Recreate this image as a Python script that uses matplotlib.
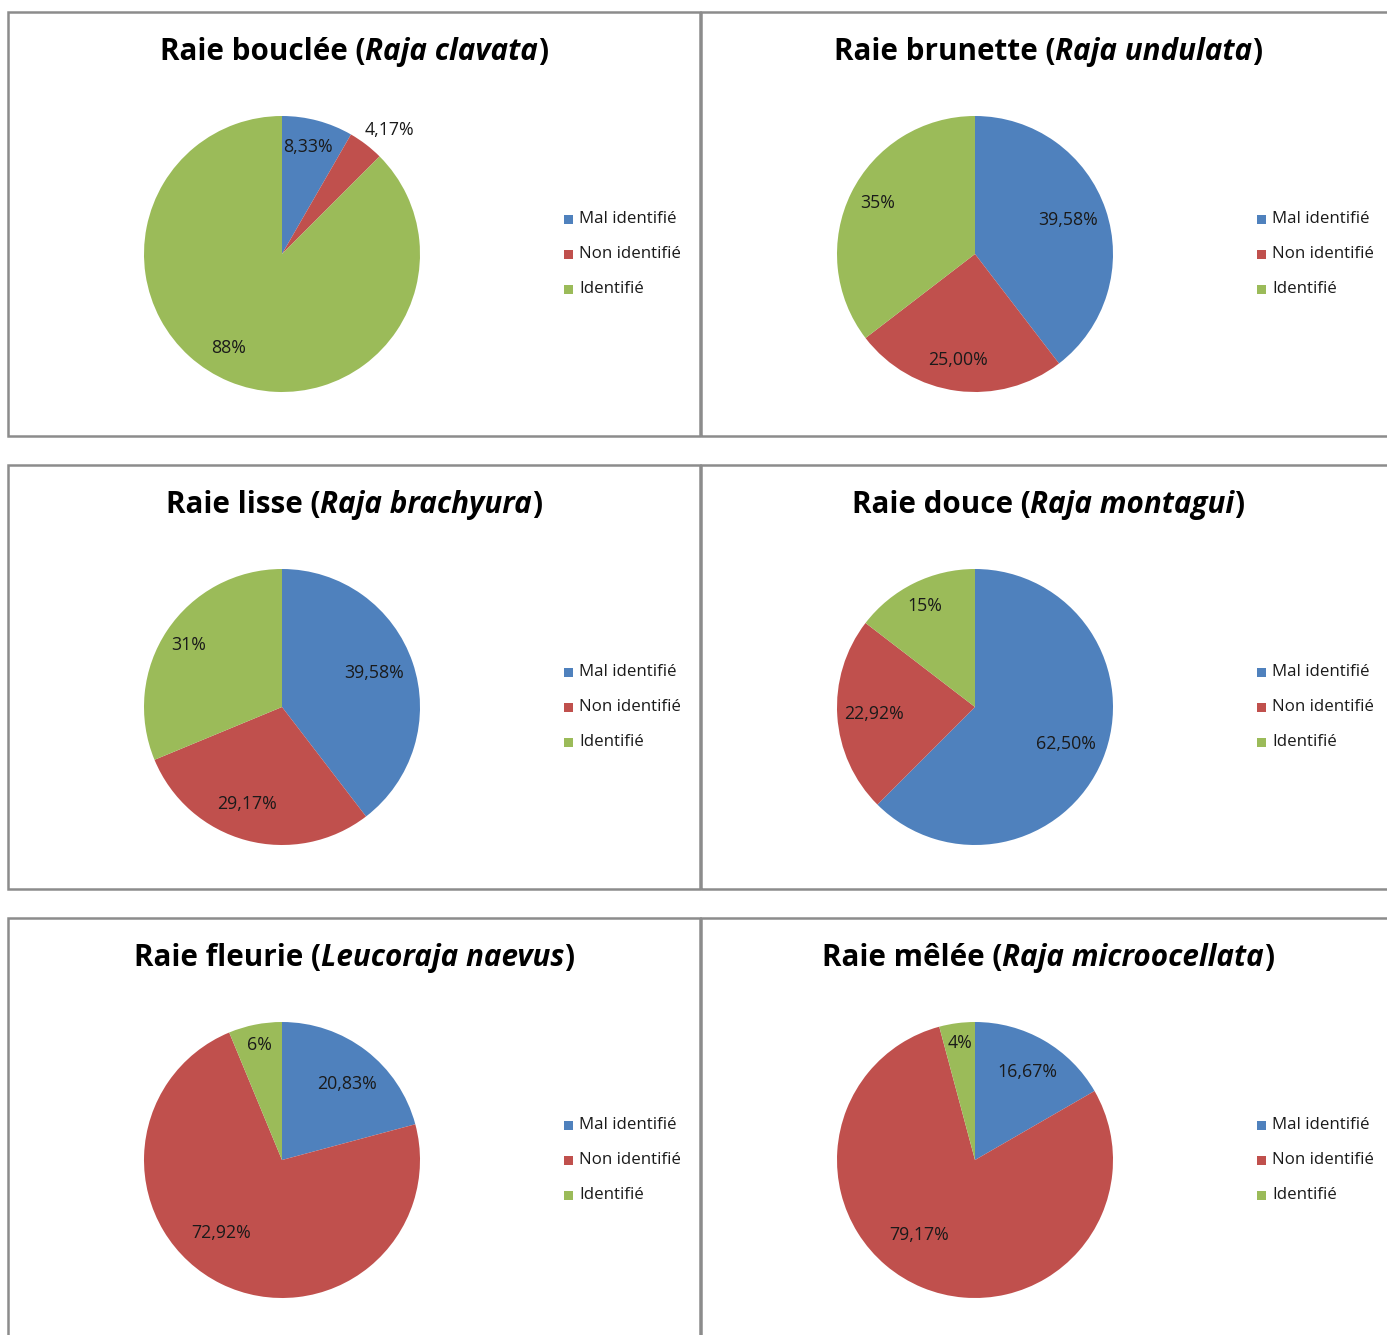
import matplotlib
matplotlib.use('Agg')

import matplotlib.pyplot as plt
from matplotlib.patches import Rectangle
import numpy as np

W, H = 1387, 1335

categories = ["Mal identifié", "Non identifié", "Identifié"]
colors = ["#4F81BD", "#C0504D", "#9BBB59"]

titles = [
    ("Raie bouclée (", "Raja clavata", ")"),
    ("Raie brunette (", "Raja undulata", ")"),
    ("Raie lisse (", "Raja brachyura", ")"),
    ("Raie douce (", "Raja montagui", ")"),
    ("Raie fleurie (", "Leucoraja naevus", ")"),
    ("Raie mêlée (", "Raja microocellata", ")"),
]

# percentages per species: Mal identifié, Non identifié, Identifié
vals_clavata = [8.33, 4.17, 87.50]
vals_undulata = [39.58, 25.00, 35.42]
vals_brachyura = [39.58, 29.17, 31.25]
vals_montagui = [62.50, 22.92, 14.58]
vals_naevus = [20.83, 72.92, 6.25]
vals_microocellata = [16.67, 79.17, 4.17]

labels_clavata = ["8,33%", "4,17%", "88%"]
labels_undulata = ["39,58%", "25,00%", "35%"]
labels_brachyura = ["39,58%", "29,17%", "31%"]
labels_montagui = ["62,50%", "22,92%", "15%"]
labels_naevus = ["20,83%", "72,92%", "6%"]
labels_microocellata = ["16,67%", "79,17%", "4%"]

all_vals = [vals_clavata, vals_undulata, vals_brachyura,
            vals_montagui, vals_naevus, vals_microocellata]
all_labels = [labels_clavata, labels_undulata, labels_brachyura,
              labels_montagui, labels_naevus, labels_microocellata]

# label placement: (distance as fraction of radius, angle shift in degrees)
label_pos = [
    [(0.80, 1.5), (1.19, -3.5), (0.78, -7)],
    [(0.72, 1.3), (0.78, -1.6), (0.80, -1.5)],
    [(0.71, 1.5), (0.75, -4.7), (0.81, 0)],
    [(0.71, 0), (0.73, 0), (0.82, 0)],
    [(0.725, -3), (0.69, -13.6), (0.85, 0)],
    [(0.74, -0.6), (0.68, -14.3), (0.855, 0)],
]

plt.rcParams['font.family'] = ['Open Sans', 'DejaVu Sans']

fig = plt.figure(figsize=(W / 100, H / 100), dpi=100)
renderer = fig.canvas.get_renderer()


def fx(x):
    return x / W


def fy(y):
    return 1 - y / H


panel_x = [(8, 700), (701, 1395)]
panel_y = [(12, 436), (465, 889), (918, 1345)]
R = 138

for i in range(6):
    row, col = divmod(i, 2)
    x0, x1 = panel_x[col]
    y0, y1 = panel_y[row]

    fig.patches.append(Rectangle((fx(x0), fy(y1)), fx(x1 - x0), (y1 - y0) / H,
                                 transform=fig.transFigure, fill=False,
                                 edgecolor="#8C8C8C", linewidth=1.8, zorder=0))

    # title in three pieces (roman / italic / roman)
    cx = (x0 + x1) / 2
    ty = fy(y0 + 40)
    styles = ["normal", "italic", "normal"]
    texts = []
    for p, st in zip(titles[i], styles):
        t = fig.text(0, ty, p, fontsize=21.3, fontweight="bold", style=st,
                     va="center", ha="left", color="black")
        texts.append(t)
    widths = [t.get_window_extent(renderer).width for t in texts]
    start = cx - sum(widths) / 2
    for t, w in zip(texts, widths):
        t.set_x(fx(start))
        start += w

    # pie
    pcx = x0 + 274
    pcy = y0 + 242
    ax = fig.add_axes([fx(pcx - R), fy(pcy + R), 2 * R / W, 2 * R / H])
    wedges, _ = ax.pie(all_vals[i], colors=colors, startangle=90,
                       counterclock=False, radius=1,
                       wedgeprops=dict(linewidth=0))
    ax.set_xlim(-1, 1)
    ax.set_ylim(-1, 1)
    ax.set_aspect("equal")
    ax.axis("off")
    for w, lab, (d, shift) in zip(wedges, all_labels[i], label_pos[i]):
        ang = np.deg2rad((w.theta1 + w.theta2) / 2 + shift)
        ax.text(d * np.cos(ang), d * np.sin(ang), lab, ha="center",
                va="center", fontsize=12.8, color="#1A1A1A", clip_on=False)

    # legend
    for k, (cat, c) in enumerate(zip(categories, colors)):
        ly = y0 + 207 + 35 * k
        fig.patches.append(Rectangle((fx(x0 + 556), fy(ly + 5)), 9 / W, 9 / H,
                                     transform=fig.transFigure,
                                     facecolor=c, edgecolor="none"))
        fig.text(fx(x0 + 571), fy(ly), cat, fontsize=12.2, va="center",
                 ha="left", color="#1A1A1A")

fig.savefig("out.png", dpi=100, facecolor="white")
